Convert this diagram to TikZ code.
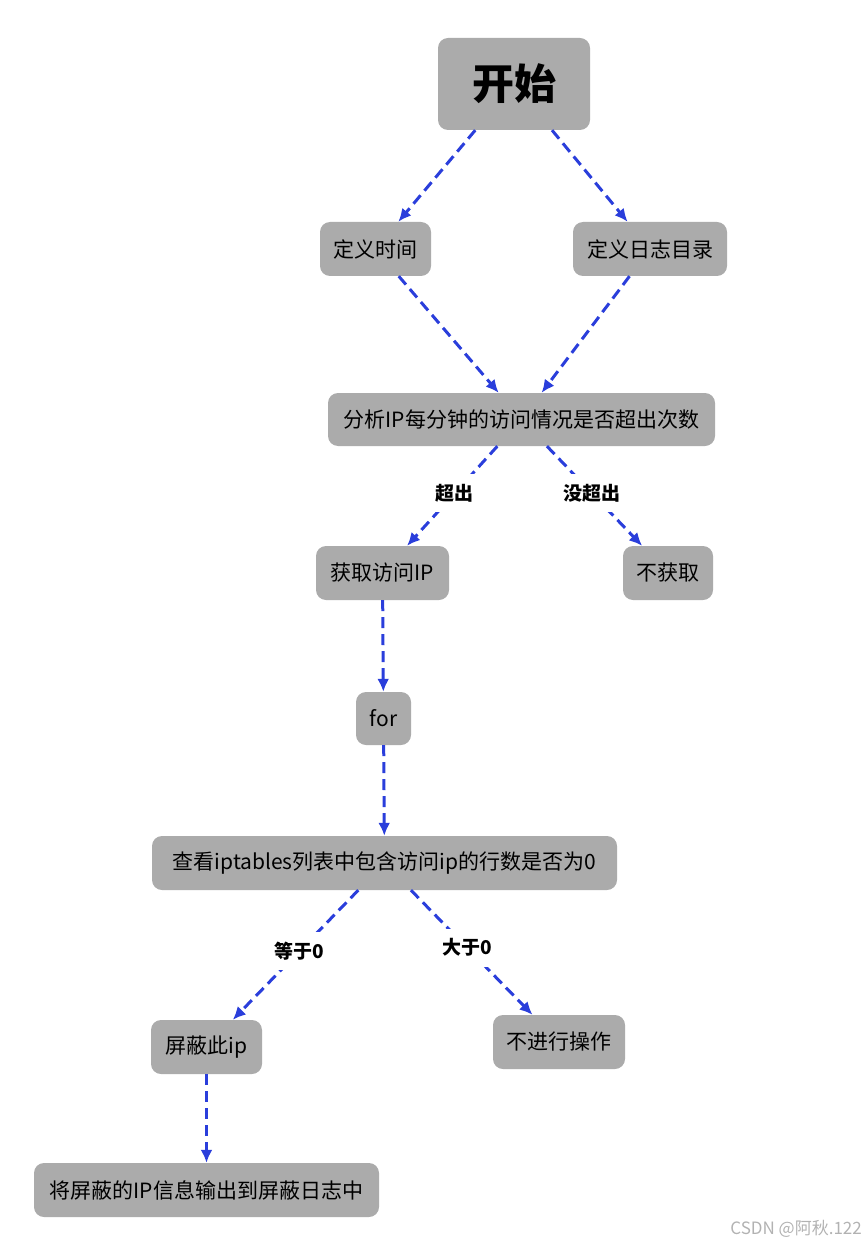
\documentclass[tikz,border=0pt]{standalone}
\usepackage{fontspec}
\setmainfont{Noto Sans CJK SC}
\usetikzlibrary{arrows.meta}

\definecolor{boxgray}{HTML}{ABABAB}
\definecolor{flowblue}{HTML}{2A3EDB}

\tikzset{
  box/.style = {fill = boxgray, rounded corners = 10pt, inner sep = 0pt,
    minimum height = 54pt, font = \fontsize{21}{24}\selectfont},
  flow/.style = {color = flowblue, line width = 3pt,
    dash pattern = on 11pt off 6pt, -{Latex[length = 13pt, width = 12pt]}},
  cond/.style = {fill = white, text = black, inner sep = 10pt,
    font = \bfseries\fontsize{19}{22}\selectfont}
}

\begin{document}
\begin{tikzpicture}[x = 1pt, y = -1pt]
  \useasboundingbox (0,0) rectangle (865,1246);

  % draws the steps
  \node[box, minimum width = 152pt, minimum height = 92pt,
    font = \bfseries\fontsize{42}{48}\selectfont] (start) at (514,84) {开始};
  \node[box, minimum width = 111pt] (time) at (375.5,249) {定义时间};
  \node[box, minimum width = 154pt] (logdir) at (650,249) {定义日志目录};
  \node[box, minimum width = 387pt, minimum height = 53pt]
    (analyze) at (521.5,419.5) {分析IP每分钟的访问情况是否超出次数};
  \node[box, minimum width = 133pt] (getip) at (382.5,573) {获取访问IP};
  \node[box, minimum width = 90pt] (noget) at (668,573) {不获取};
  \node[box, minimum width = 55pt, minimum height = 53pt]
    (loop) at (383.5,718.5) {for};
  \node[box, minimum width = 465pt] (check) at (384.5,863)
    {查看iptables列表中包含访问ip的行数是否为0};
  \node[box, minimum width = 111pt] (block) at (206.5,1047) {屏蔽此ip};
  \node[box, minimum width = 132pt] (noop) at (559,1042) {不进行操作};
  \node[box, minimum width = 345pt] (output) at (206.5,1190)
    {将屏蔽的IP信息输出到屏蔽日志中};

  % draws the connectors
  \draw[flow] (start) -- (time);
  \draw[flow] (start) -- (logdir);
  \draw[flow] (time) -- (analyze);
  \draw[flow] (logdir) -- (analyze);
  \draw[flow] (analyze) -- node[cond, pos = .47] {超出} (getip);
  \draw[flow] (analyze) -- node[cond, pos = .47] {没超出} (noget);
  \draw[flow] (getip) -- (loop);
  \draw[flow] (loop) -- (check);
  \draw[flow] (check) -- node[cond, pos = .47] {等于0} (block);
  \draw[flow] (check) -- node[cond, pos = .46] {大于0} (noop);
  \draw[flow] (block) -- (output);

  % watermark
  \node[anchor = east, text = gray!60, inner sep = 0pt,
    font = \fontsize{17}{20}\selectfont] (mark) at (862,1229) {CSDN @阿秋.122};
\end{tikzpicture}
\end{document}
